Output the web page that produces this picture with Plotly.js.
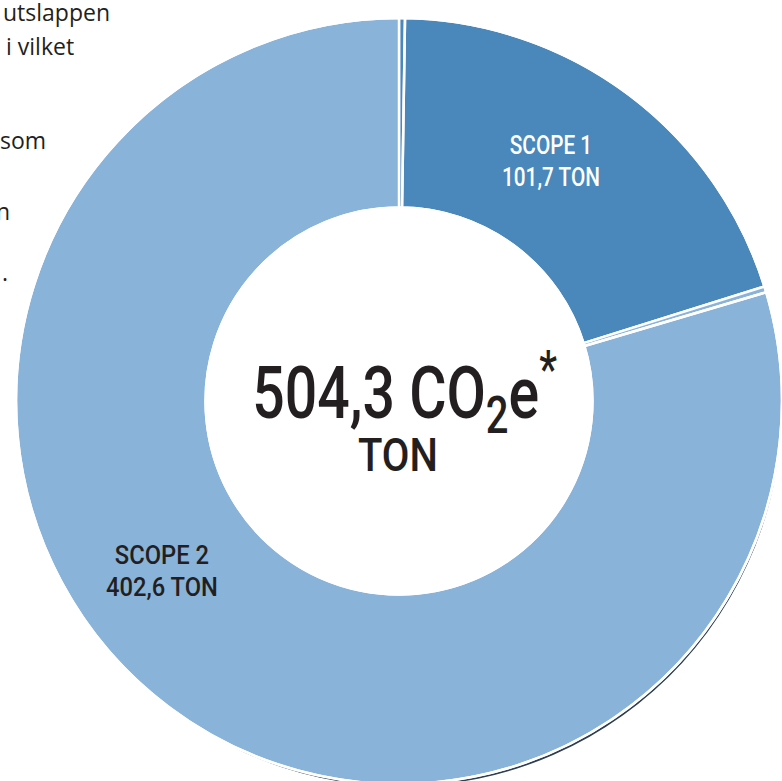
<!DOCTYPE html>
<html><head><meta charset="utf-8">
<script src="https://cdn.plot.ly/plotly-3.0.1.min.js"></script>
<style>html,body{margin:0;padding:0;background:#fff;overflow:hidden}#c{width:782px;height:790px}</style>
</head><body><div id="c"></div>
<script>
const categories = ["SCOPE 1", "SCOPE 2"];
const values = [101.7, 402.6];
const unit = "TON";
const totalLabel = "504,3 CO<sub>2</sub>e<sup>*</sup>";
const sideText = ["utslappen", "i vilket", "som", "n", "."];

const fmt = v => v.toFixed(1).replace(".", ",");
const W = 782, H = 790;
const cx = 400, cy = 401, R = 384;
const px = (x) => x / W;
const py = (y) => 1 - y / H;

const dom = (dx, dy) => ({x: [px(cx - R + dx), px(cx + R + dx)], y: [py(cy + R + dy), py(cy - R + dy)]});

const base = {
  type: "pie", values: values, labels: categories, sort: false,
  direction: "clockwise", textinfo: "none", hoverinfo: "none", showlegend: false
};
const shadow = Object.assign({}, base, {
  hole: 0.92, rotation: 0, domain: dom(5, 5),
  marker: {colors: ["#a9adb2", "#2c3e50"], line: {width: 0}}
});
const main = Object.assign({}, base, {
  hole: 0.505, rotation: 0, domain: dom(0, 0),
  marker: {colors: ["#4a87bb", "#89b3d9"], line: {color: "#ffffff", width: 2.5}}
});
const sep = Object.assign({}, base, {
  hole: 0.505, rotation: 0.9, domain: dom(0, 0),
  marker: {colors: ["rgba(0,0,0,0)", "rgba(0,0,0,0)"], line: {color: "#ffffff", width: 2.5}}
});

const fontC = "Roboto, 'Noto Sans', sans-serif";
const labelPos = [[551, 162, "#ffffff"], [162, 572, "#231f20"]];
const annotations = [];
const targetW = [];
categories.forEach((c, i) => {
  annotations.push({
    xref: "paper", yref: "paper", x: px(labelPos[i][0]), y: py(labelPos[i][1]),
    xanchor: "center", yanchor: "middle",
    text: c + "<br>" + fmt(values[i]) + " " + unit, showarrow: false,
    font: {family: fontC, size: 25, weight: 500, color: labelPos[i][2]}, align: "center"
  });
  targetW.push(i === 0 ? 98 : 112);
});
annotations.push({
  xref: "paper", yref: "paper", x: px(405), y: py(392), xanchor: "center", yanchor: "middle",
  text: totalLabel, showarrow: false,
  font: {family: fontC, size: 73, weight: 500, color: "#231f20"}
});
targetW.push(305);
annotations.push({
  xref: "paper", yref: "paper", x: px(398), y: py(455), xanchor: "center", yanchor: "middle",
  text: unit, showarrow: false,
  font: {family: fontC, size: 46, weight: 500, color: "#231f20"}
});
targetW.push(80);
const sideY = [12, 46, 140, 211, 272];
const sideR = [112, 76, 48, 12, 10];
sideText.forEach((t, i) => {
  annotations.push({
    xref: "paper", yref: "paper", x: px(sideR[i]), y: py(sideY[i]),
    xanchor: "right", yanchor: "middle", text: t, showarrow: false,
    font: {family: "'Open Sans', sans-serif", size: 23, color: "#231f20"}
  });
  targetW.push(null);
});

Plotly.newPlot("c", [shadow, main, sep], {
  width: W, height: H,
  margin: {l: 0, r: 0, t: 0, b: 0},
  paper_bgcolor: "#ffffff",
  annotations: annotations
}, {staticPlot: true}).then(() => {
  targetW.forEach((tw, i) => {
    if (!tw) return;
    const el = document.querySelector('g.annotation[data-index="' + i + '"] text.annotation-text');
    if (!el) return;
    const w = el.getBBox().width;
    if (!w) return;
    el.style.transformBox = "fill-box";
    el.style.transformOrigin = "center";
    el.style.transform = "scaleX(" + (tw / w).toFixed(3) + ")";
  });
});
</script></body></html>
